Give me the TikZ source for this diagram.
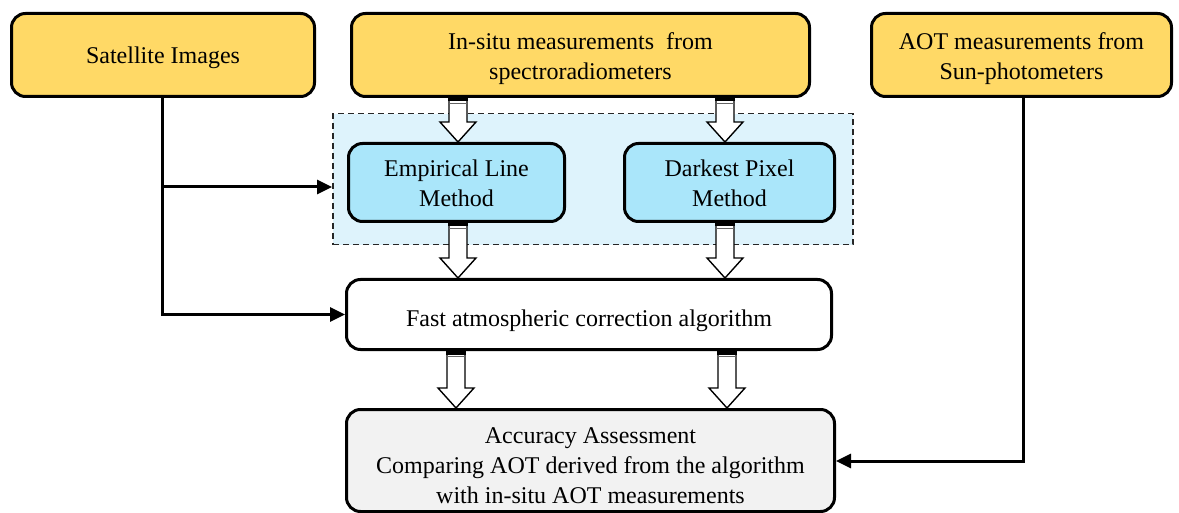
\documentclass[tikz,border=0pt]{standalone}
\usepackage{fontspec}
\setmainfont{Liberation Serif}
\usetikzlibrary{arrows.meta,calc}
\definecolor{boxyellow}{RGB}{255,217,102}
\definecolor{boxblue}{RGB}{170,230,250}
\definecolor{zoneblue}{RGB}{222,243,252}
\definecolor{boxgray}{RGB}{242,242,242}
% invisible strut: a taller first line pushes the text block lower in its box
\newcommand\lift[1]{\rule{0pt}{#1}}
\tikzset{
  base/.style={draw=black, line width=3pt, rounded corners=14pt, align=center,
    font=\fontsize{24}{30}\selectfont, inner sep=0pt, anchor=north west},
  srcbox/.style={base, fill=boxyellow},
  methodbox/.style={base, fill=boxblue},
  zone/.style={draw=black!85, dash pattern=on 6pt off 4pt, line width=1.5pt, fill=zoneblue,
    anchor=north west, inner sep=0pt},
  algbox/.style={base, fill=white},
  resbox/.style={base, fill=boxgray},
  link/.style={line width=3pt, -{Triangle[length=15pt,width=14pt]}},
}
% hollow block arrow: x, top y, bottom y
\newcommand\blockarrow[3]{%
  \draw[line width=1.4pt, fill=white, line join=miter]
    (#1-9,#2) -- (#1-9,#3-20) -- (#1-18,#3-20) -- (#1,#3) -- (#1+18,#3-20)
    -- (#1+9,#3-20) -- (#1+9,#2) -- cycle;
  \fill[black] (#1-9.7,#2) rectangle (#1+9.7,#2+5);
  \draw[black!60, line width=0.8pt] (#1-9,#2+7) -- (#1+9,#2+7);
}
\begin{document}
\begin{tikzpicture}[x=1pt,y=-1pt]
\useasboundingbox (0,0) rectangle (1179,513);

% data sources
\node[srcbox, minimum width=303pt, minimum height=83pt] (sat) at (10,12) {\lift{22.5pt}Satellite Images};
\node[srcbox, minimum width=458pt, minimum height=83pt] (ins) at (350,12)
  {\lift{25pt}In-situ measurements \ from\\spectroradiometers};
\node[srcbox, minimum width=300pt, minimum height=83pt] (aot) at (870,12)
  {\lift{25pt}AOT measurements from\\Sun-photometers};

% correction methods
\node[zone, minimum width=520pt, minimum height=131pt] (zone) at (332,113) {};
\node[methodbox, minimum width=216pt, minimum height=78pt] (elm) at (347,142) {\lift{18pt}Empirical Line\\Method};
\node[methodbox, minimum width=210pt, minimum height=78pt] (dpm) at (623,142) {\lift{18pt}Darkest Pixel\\Method};

% algorithm and assessment
\node[algbox, minimum width=485pt, minimum height=70pt] (fac) at (345,278)
  {\lift{28.5pt}Fast atmospheric correction algorithm};
\node[resbox, minimum width=488pt, minimum height=102pt] (acc) at (345,408)
  {\lift{27pt}Accuracy Assessment\\Comparing AOT derived from the algorithm\\with in-situ AOT measurements};

% block arrows between stages
\blockarrow{458}{96.5}{142}
\blockarrow{725}{96.5}{142}
\blockarrow{458}{221.5}{278}
\blockarrow{725}{221.5}{278}
\blockarrow{456}{349.5}{408}
\blockarrow{727}{349.5}{408}

% connectors
\coordinate (satdown) at (162,314);
\draw[link] (sat.south -| satdown) |- (fac.west);
\draw[link] (162,187) -- (zone.west |- 0,187);
\coordinate (aotdown) at (1023,461);
\draw[link] (aot.south -| aotdown) |- (acc.east |- aotdown);
\end{tikzpicture}
\end{document}
